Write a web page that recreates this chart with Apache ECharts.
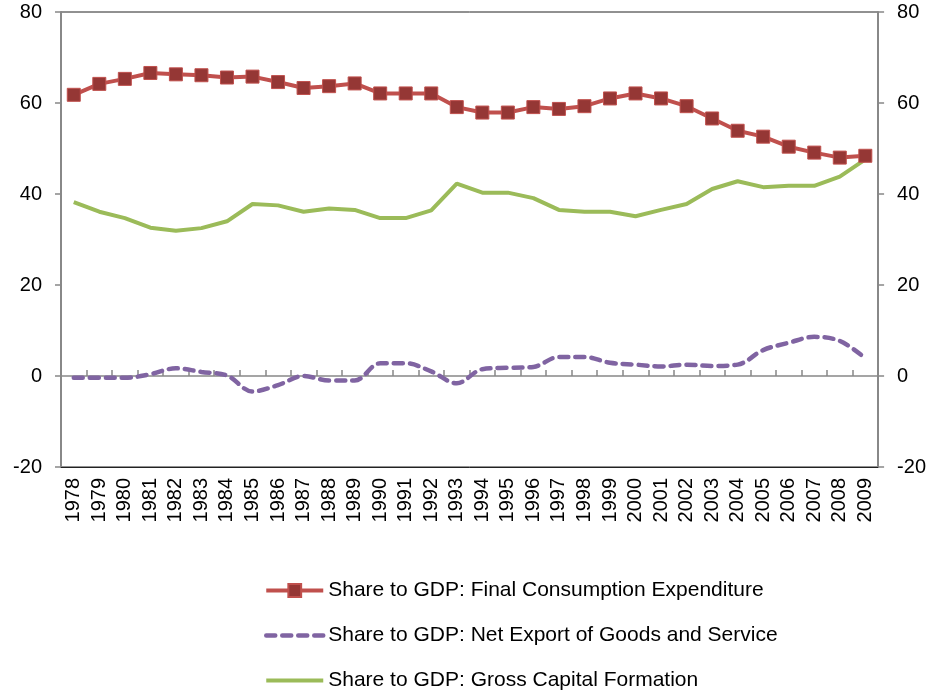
<!DOCTYPE html>
<html><head><meta charset="utf-8">
<script src="https://cdn.jsdelivr.net/npm/echarts@6/dist/echarts.min.js"></script>
<style>html,body{margin:0;padding:0;background:#fff}#c{width:929px;height:693px}</style>
</head><body><div id="c"></div>
<script>
const years = ['1978','1979','1980','1981','1982','1983','1984','1985','1986','1987','1988','1989','1990','1991','1992','1993','1994','1995','1996','1997','1998','1999','2000','2001','2002','2003','2004','2005','2006','2007','2008','2009'];
const consumption = [61.8,64.2,65.3,66.6,66.3,66.1,65.6,65.8,64.6,63.3,63.7,64.3,62.1,62.1,62.1,59.1,57.9,57.9,59.1,58.7,59.3,61.0,62.1,61.0,59.3,56.6,53.9,52.6,50.4,49.1,48.0,48.4];
const netExport = [-0.4,-0.4,-0.4,0.4,1.7,0.9,0.1,-3.4,-2.0,0.0,-1.0,-1.0,2.8,2.8,1.0,-1.6,1.5,1.8,2.0,4.2,4.2,2.9,2.5,2.1,2.5,2.2,2.5,5.7,7.3,8.6,7.7,3.9];
const capital = [38.2,36.1,34.7,32.6,31.9,32.5,34.0,37.8,37.5,36.1,36.8,36.5,34.7,34.7,36.4,42.3,40.3,40.3,39.1,36.5,36.1,36.1,35.1,36.5,37.8,41.1,42.8,41.5,41.8,41.8,43.8,47.6];
const yTicks = {min:-20, max:80, interval:20};
const names = ['Share to GDP: Final Consumption Expenditure','Share to GDP: Net Export of Goods and Service','Share to GDP: Gross Capital Formation'];

const font = 'Liberation Sans, Arial, sans-serif';
const chart = echarts.init(document.getElementById('c'));
chart.setOption({
  animation:false,
  backgroundColor:'#fff',
  grid:{left:61, right:50, top:12, bottom:226, show:true, borderColor:'#222', borderWidth:1},
  xAxis:[
    {type:'category', data:years, position:'top', boundaryGap:true,
     axisLine:{onZero:true, lineStyle:{color:'#888', width:1.5}},
     axisTick:{show:true, interval:0, length:6, lineStyle:{color:'#888', width:1.5}},
     axisLabel:{show:false}, splitLine:{show:false}},
    {type:'category', data:years, position:'bottom', boundaryGap:true,
     axisLine:{onZero:false, lineStyle:{color:'#222', width:1}},
     axisTick:{show:false},
     axisLabel:{rotate:90, margin:11, color:'#000', fontSize:20, fontFamily:font, interval:0},
     splitLine:{show:false}}
  ],
  yAxis:[
    {type:'value', position:'left', min:yTicks.min, max:yTicks.max, interval:yTicks.interval,
     axisLine:{show:true, onZero:false, lineStyle:{color:'#888', width:2}},
     axisTick:{show:true, length:6, lineStyle:{color:'#888', width:1.5}},
     axisLabel:{margin:19, color:'#000', fontSize:20, fontFamily:font},
     splitLine:{show:false}},
    {type:'value', position:'right', min:yTicks.min, max:yTicks.max, interval:yTicks.interval,
     axisLine:{show:true, onZero:false, lineStyle:{color:'#888', width:2}},
     axisTick:{show:true, length:6, lineStyle:{color:'#888', width:1.5}},
     axisLabel:{margin:19, color:'#000', fontSize:20, fontFamily:font},
     splitLine:{show:false}}
  ],
  legend:{orient:'vertical', left:264, top:580, padding:0, itemWidth:57, itemHeight:16, itemGap:24,
    height:130,
    textStyle:{color:'#000', fontSize:21, fontFamily:font, lineHeight:21},
    data:[
      {name:names[0], lineStyle:{width:4}},
      {name:names[1], lineStyle:{width:4.5}, itemStyle:{opacity:0}},
      {name:names[2], lineStyle:{width:4}, itemStyle:{opacity:0}}
    ]},
  series:[
    {name:names[2], type:'line', xAxisIndex:1, data:capital,
     symbol:'none', lineStyle:{color:'#9BBB59', width:4}, itemStyle:{color:'#9BBB59'}, z:2},
    {name:names[1], type:'line', xAxisIndex:1, data:netExport,
     symbol:'none', smooth:0.35, lineStyle:{color:'#8064A2', width:4.5, type:[9,7], cap:'round'}, itemStyle:{color:'#8064A2'}, z:2},
    {name:names[0], type:'line', xAxisIndex:1, data:consumption,
     symbol:'rect', symbolSize:13, lineStyle:{color:'#C0504D', width:4},
     itemStyle:{color:'#953735', borderColor:'#C0504D', borderWidth:1}, z:3}
  ]
});
</script></body></html>
